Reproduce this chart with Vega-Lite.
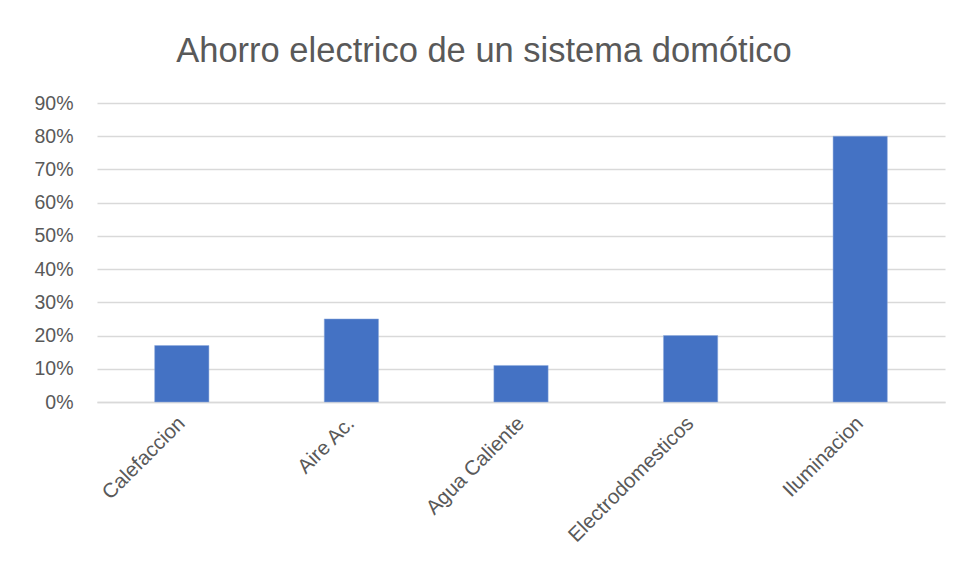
{
  "$schema": "https://vega.github.io/schema/vega-lite/v6.json",
  "width": 848,
  "height": 299,
  "autosize": {"type": "none"},
  "padding": {"left": 97, "top": 103, "right": 20, "bottom": 181},
  "background": "white",
  "title": {
    "text": "Ahorro electrico de un sistema domótico",
    "font": "Liberation Sans",
    "fontSize": 34.5,
    "fontWeight": "normal",
    "color": "#595959",
    "anchor": "middle",
    "dx": -37,
    "offset": 24
  },
  "data": {
    "values": [
      {"categoria": "Calefaccion", "ahorro": 0.17},
      {"categoria": "Aire Ac.", "ahorro": 0.25},
      {"categoria": "Agua Caliente", "ahorro": 0.11},
      {"categoria": "Electrodomesticos", "ahorro": 0.20},
      {"categoria": "Iluminacion", "ahorro": 0.80}
    ]
  },
  "mark": {"type": "bar", "color": "#4472C4", "stroke": "#8faadc", "strokeWidth": 0.5},
  "encoding": {
    "x": {
      "field": "categoria",
      "type": "nominal",
      "sort": null,
      "title": null,
      "scale": {"paddingInner": 0.68, "paddingOuter": 0.34},
      "axis": {
        "labelAngle": -45,
        "labelAlign": "right",
        "labelBaseline": "middle",
        "labelFont": "Liberation Sans",
        "labelFontSize": 20.5,
        "labelColor": "#595959",
        "labelPadding": 18,
        "labelLimit": 300,
        "ticks": false,
        "domainColor": "#d9d9d9",
        "domainWidth": 1.5
      }
    },
    "y": {
      "field": "ahorro",
      "type": "quantitative",
      "title": null,
      "scale": {"domain": [0, 0.9]},
      "axis": {
        "format": ".0%",
        "values": [0, 0.1, 0.2, 0.3, 0.4, 0.5, 0.6, 0.7, 0.8, 0.9],
        "labelFont": "Liberation Sans",
        "labelFontSize": 19.5,
        "labelColor": "#595959",
        "labelPadding": 24,
        "ticks": false,
        "domain": false,
        "gridColor": "#d9d9d9",
        "gridWidth": 1.5
      }
    }
  },
  "config": {"view": {"stroke": null}}
}
